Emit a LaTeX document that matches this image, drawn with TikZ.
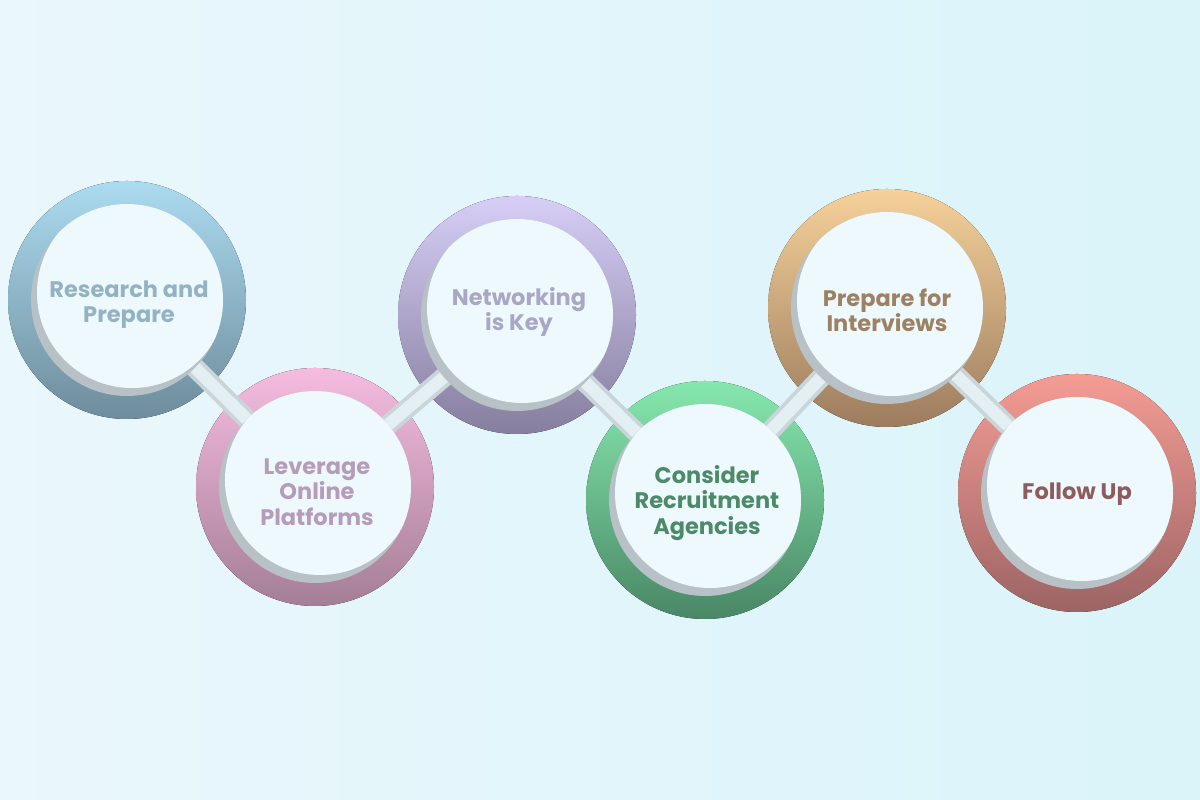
\documentclass[tikz,border=0pt]{standalone}
\usepackage{fontspec}
\setmainfont{Poppins}
\usetikzlibrary{calc}

\definecolor{bgleft}{HTML}{EAF7FC}
\definecolor{bgright}{HTML}{DAF4FA}
\definecolor{innerfill}{HTML}{EEF9FD}
\definecolor{shadowgrey}{HTML}{B7C1C6}
\definecolor{linkgrey}{HTML}{CAD5DA}
\definecolor{linklight}{HTML}{E4EFF3}
% ring colours, top and bottom
\definecolor{blueT}{HTML}{ABDBF0}
\definecolor{blueB}{HTML}{6E8C9C}
\definecolor{pinkT}{HTML}{F5BCE0}
\definecolor{pinkB}{HTML}{A47E96}
\definecolor{lilacT}{HTML}{D6CEF6}
\definecolor{lilacB}{HTML}{857E9E}
\definecolor{greenT}{HTML}{86E8AE}
\definecolor{greenB}{HTML}{4A8766}
\definecolor{sandT}{HTML}{F6D19A}
\definecolor{sandB}{HTML}{9C7C5E}
\definecolor{redT}{HTML}{F49C94}
\definecolor{redB}{HTML}{9C6464}
% text colours
\definecolor{blueTx}{HTML}{93B3C3}
\definecolor{pinkTx}{HTML}{B59CBB}
\definecolor{lilacTx}{HTML}{A9A6C6}
\definecolor{greenTx}{HTML}{4D8A6A}
\definecolor{sandTx}{HTML}{9C8264}
\definecolor{redTx}{HTML}{8E5C5C}

\begin{document}
\begin{tikzpicture}[x=0.02cm,y=0.02cm,
  link/.style={line width=11.4pt,draw=linkgrey},
  linkin/.style={line width=7pt,draw=linklight},
  txt/.style={font=\bfseries\fontsize{12.8}{14.4}\selectfont,align=center}]
  \shade[left color=bgleft,right color=bgright] (0,0) rectangle (1200,800);
  \useasboundingbox (0,0) rectangle (1200,800);
  \coordinate (S1) at (127,500);
  \coordinate (S2) at (315,313);
  \coordinate (S3) at (517,485);
  \coordinate (S4) at (705,300);
  \coordinate (S5) at (887,492);
  \coordinate (S6) at (1077,307);
  % rings
  \foreach \p/\a/\b in {S1/blueT/blueB,S2/pinkT/pinkB,S3/lilacT/lilacB,
                        S4/greenT/greenB,S5/sandT/sandB,S6/redT/redB}
    \fill[top color=\a,bottom color=\b] (\p) circle (119);
  % links
  \foreach \a/\b in {S1/S2,S2/S3,S3/S4,S4/S5,S5/S6}{
    \draw[link] (\a) -- (\b);
    \draw[linkin] (\a) -- (\b);
  }
  % inner discs, shadow at lower left
  \foreach \p in {S1,S2,S3,S4,S5,S6}{
    \fill[shadowgrey] (\p) circle (96);
    \begin{scope}
      \clip (\p) circle (96);
      \fill[innerfill] ($(\p)+(5,7)$) circle (95);
    \end{scope}
  }
  \node[txt,text=blueTx] (T1) at ($(S1)+(2,-5)$) {Research and\\Prepare};
  \node[txt,text=pinkTx] (T2) at ($(S2)+(2,-5)$) {Leverage\\Online\\Platforms};
  \node[txt,text=lilacTx] (T3) at ($(S3)+(2,3)$) {Networking\\is Key};
  \node[txt,text=greenTx] (T4) at ($(S4)+(2,-3)$) {Consider\\Recruitment\\Agencies};
  \node[txt,text=sandTx] (T5) at ($(S5)+(0,-2)$) {Prepare for\\Interviews};
  \node[txt,text=redTx] (T6) at ($(S6)+(0,-1)$) {Follow Up};
\end{tikzpicture}
\end{document}
